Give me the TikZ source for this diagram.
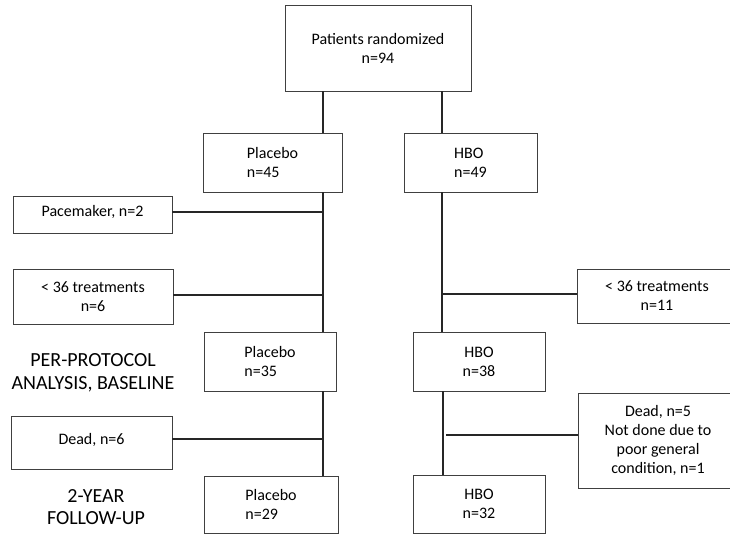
\documentclass[tikz,border=0pt]{standalone}
\usepackage{fontspec}
\setmainfont{Carlito}
\usepackage{tikz}

\tikzset{
  box/.style={draw=black!75, line width=0.9pt, align=center, inner sep=2pt,
    font=\fontsize{16}{19}\selectfont},
  link/.style={line width=2pt, black!85},
  phase/.style={align=center, font=\fontsize{20}{22.5}\selectfont}
}

\begin{document}
\begin{tikzpicture}[x=1pt,y=-1pt]
			\useasboundingbox (0,0) rectangle (730,535);
			%boxes
			\node[box, minimum width=186pt, minimum height=86pt] (rand) at (378,48) {Patients randomized\\n=94};
			\node[box, align=left, minimum width=139pt, minimum height=59pt] (plac1) at (272.5,162.5) {Placebo\\n=45};
			\node[box, align=left, minimum width=133pt, minimum height=59pt] (hbo1) at (470.5,162.5) {HBO\\n=49};
			\node[box, minimum width=159pt, minimum height=37pt] (pace) at (92.5,214.5) {Pacemaker, n=2\rule[-8pt]{0pt}{8pt}};
			\node[box, minimum width=160pt, minimum height=55pt] (fewL) at (93,296.5) {< 36 treatments\\n=6};
			\node[box, minimum width=160pt, minimum height=54pt] (fewR) at (657,296) {< 36 treatments\\n=11};
			\node[box, align=left, minimum width=132pt, minimum height=59pt] (plac2) at (270,361.5) {Placebo\\n=35};
			\node[box, minimum width=132pt, minimum height=59pt] (hbo2) at (479,361.5) {HBO\\n=38};
			\node[box, minimum width=161pt, minimum height=53pt] (deadL) at (91.5,442.5) {Dead, n=6\rule[-8pt]{0pt}{8pt}};
			\node[box, minimum width=160pt, minimum height=95pt] (deadR) at (658,440.5) {Dead, n=5\\Not done due to\\poor general\\condition, n=1};
			\node[box, align=left, minimum width=134pt, minimum height=57pt] (plac3) at (271,504.5) {Placebo\\n=29};
			\node[box, minimum width=132pt, minimum height=58pt] (hbo3) at (479,504) {HBO\\n=32};
			%phase labels
			\node[phase] (pp) at (93,373) {PER-PROTOCOL\\ANALYSIS, BASELINE};
			\node[phase] (fu) at (96,507) {2-YEAR\\FOLLOW-UP};
			%trunks
			\coordinate (trunkL) at (323,0);
			\coordinate (trunkR) at (442,0);
			\draw[link] (rand.south -| trunkL) -- (plac1.north -| trunkL);
			\draw[link] (rand.south -| trunkR) -- (hbo1.north -| trunkR);
			\draw[link] (plac1.south -| trunkL) -- (plac2.north -| trunkL);
			\draw[link] (hbo1.south -| trunkR) -- (hbo2.north -| trunkR);
			\draw[link] (plac2.south -| trunkL) -- (plac3.north -| trunkL);
			\draw[link] ([xshift=1pt]hbo2.south -| trunkR) -- ([xshift=1pt]hbo3.north -| trunkR);
			%drop-outs
			\draw[link] ([yshift=2.5pt]pace.east) -- ([yshift=2.5pt]pace.east -| trunkL);
			\draw[link] ([yshift=1.5pt]fewL.east) -- ([yshift=1.5pt]fewL.east -| trunkL);
			\draw[link] ([yshift=2pt]fewR.west) -- ([yshift=2pt]fewR.west -| trunkR);
			\draw[link] ([yshift=3.5pt]deadL.east) -- ([yshift=3.5pt]deadL.east -| trunkL);
			\draw[link, shorten >=4pt] ([yshift=5.5pt]deadR.west) -- ([yshift=5.5pt]deadR.west -| trunkR);
		\end{tikzpicture}
\end{document}
